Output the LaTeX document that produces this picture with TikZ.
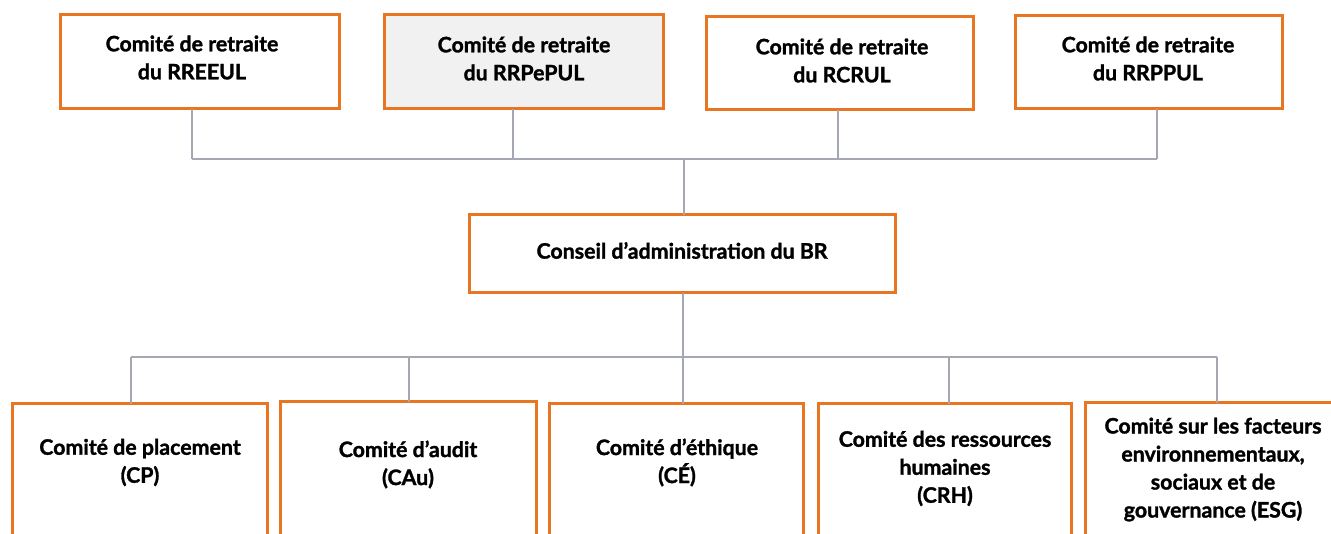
\documentclass[tikz,border=0pt]{standalone}
\usepackage{fontspec}
\setmainfont{Lato}
\newfontfamily\lblfont{Lato}[BoldFeatures={FakeBold=1.4}]
\definecolor{orangeC}{RGB}{232,117,34}
\definecolor{lineC}{RGB}{165,168,178}
\definecolor{fillC}{RGB}{241,241,241}
\begin{document}
\begin{tikzpicture}[x=0.75pt,y=-0.75pt,
  box/.style={draw=orangeC, line width=2.2pt, inner sep=0pt, outer sep=0pt, fill=white},
  lbl/.style={font=\lblfont\bfseries\fontsize{16}{21}\selectfont, align=center, inner sep=0pt, text=black},
  conn/.style={draw=lineC, line width=1.1pt}]
\useasboundingbox (0,0) rectangle (1331,533);
\clip (0,0) rectangle (1331,533);
% top boxes
\node[box, minimum width=279*0.75pt, minimum height=94*0.75pt] (T1) at (200,61.5) {};
\node[box, fill=fillC, minimum width=279*0.75pt, minimum height=94*0.75pt] (T2) at (524,61.5) {};
\node[box, minimum width=267*0.75pt, minimum height=93*0.75pt] (T3) at (840,63) {};
\node[box, minimum width=267*0.75pt, minimum height=93*0.75pt] (T4) at (1149,62) {};
% council
\node[box, minimum width=426*0.75pt, minimum height=78*0.75pt] (C) at (682.5,253.5) {};
% bottom boxes
\node[box, minimum width=255*0.75pt, minimum height=200*0.75pt] (B1) at (140,503.5) {};
\node[box, minimum width=256*0.75pt, minimum height=200*0.75pt] (B2) at (408.5,501.5) {};
\node[box, minimum width=254*0.75pt, minimum height=200*0.75pt] (B3) at (676.5,503.5) {};
\node[box, minimum width=253*0.75pt, minimum height=200*0.75pt] (B4) at (945,503.5) {};
\node[box, minimum width=273*0.75pt, minimum height=200*0.75pt] (B5) at (1222,502.5) {};
% labels
\node[lbl] (t1) at (192,57.5) {Comité de retraite\\du RREEUL};
\node[lbl] (t2) at (524,58.5) {Comité de retraite\\du RRPePUL};
\node[lbl] (t3) at (842,60.5) {Comité de retraite\\du RCRUL};
\node[lbl] (t4) at (1148,58.5) {Comité de retraite\\du RRPPUL};
\node[lbl] (tc) at (682,250.5) {Conseil d’administration du BR};
\node[lbl] (b1) at (140,462.5) {Comité de placement\\(CP)};
\node[lbl] (b2) at (408,464.5) {Comité d’audit\\(CAu)};
\node[lbl] (b3) at (677,462.5) {Comité d’éthique\\(CÉ)};
\node[lbl] (b4) at (945,468.5) {Comité des ressources\\humaines\\(CRH)};
\node[lbl] (b5) at (1213,469.5) {Comité sur les facteurs\\environnementaux,\\sociaux et de\\gouvernance (ESG)};
% junctions
\coordinate (j1) at (192,159);
\coordinate (j2) at (513,159);
\coordinate (j3) at (838,159);
\coordinate (j4) at (1157,159);
\coordinate (jc) at (684,159);
\coordinate (k1) at (131,357);
\coordinate (k2) at (409,357);
\coordinate (k3) at (683,357);
\coordinate (k4) at (949,357);
\coordinate (k5) at (1217,357);
% connectors
\draw[conn] (T1.south -| j1) -- (j1);
\draw[conn] (T2.south -| j2) -- (j2);
\draw[conn] (T3.south -| j3) -- (j3);
\draw[conn] (T4.south -| j4) -- (j4);
\draw[conn] (j1) -- (j4);
\draw[conn] (jc) -- (C.north -| jc);
\draw[conn] (C.south -| k3) -- (k3);
\draw[conn] (k1) -- (k5);
\draw[conn] (k1) -- (B1.north -| k1);
\draw[conn] (k2) -- (B2.north -| k2);
\draw[conn] (k3) -- (B3.north -| k3);
\draw[conn] (k4) -- (B4.north -| k4);
\draw[conn] (k5) -- (B5.north -| k5);
\end{tikzpicture}
\end{document}
